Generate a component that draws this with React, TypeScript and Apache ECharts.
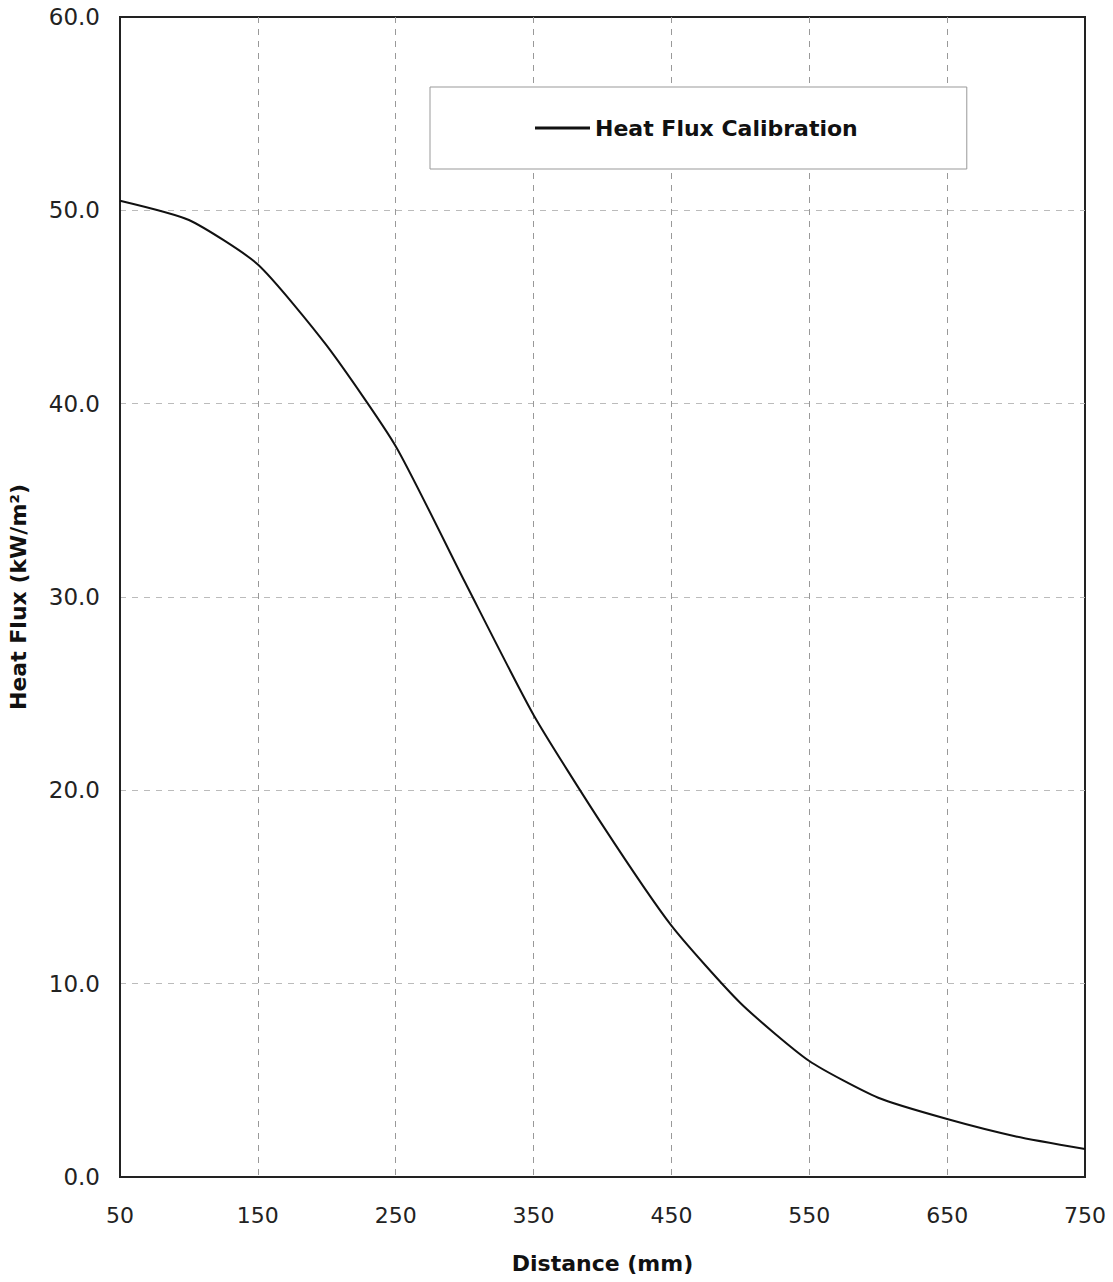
import React, { useEffect, useRef } from "react";
import * as echarts from "echarts";

const distances = [50, 100, 150, 200, 250, 300, 350, 400, 450, 500, 550, 600, 650, 700, 750];
const heatFlux = [50.5, 49.5, 47.2, 43.0, 37.8, 30.8, 23.9, 18.2, 13.0, 9.0, 6.0, 4.1, 3.0, 2.1, 1.45];
const seriesName = "Heat Flux Calibration";
const xTitle = "Distance (mm)";
const yTitle = "Heat Flux (kW/m²)";

export default function App() {
  const ref = useRef<HTMLDivElement>(null);
  useEffect(() => {
    const chart = echarts.init(ref.current!, null, { renderer: "svg" });
    const font = "'DejaVu Sans', Arial, sans-serif";
    chart.setOption({
      animation: false,
      backgroundColor: "#ffffff",
      textStyle: { fontFamily: font },
      grid: {
        left: 120,
        right: 28,
        top: 17,
        bottom: 105,
        show: true,
        borderColor: "#222",
        borderWidth: 2,
        outerBoundsMode: "none",
        containLabel: false,
      },
      legend: {
        left: 430,
        top: 87,
        orient: "horizontal",
        padding: [30, 109, 30, 105],
        borderColor: "#999",
        borderWidth: 1,
        backgroundColor: "#fff",
        itemWidth: 55,
        itemHeight: 14,
        icon: "path://M0,5.5 L55,5.5 L55,8.5 L0,8.5 Z",
        textStyle: { fontSize: 22, fontWeight: "bold", color: "#111", fontFamily: font },
        data: [seriesName],
      },
      xAxis: {
        type: "value",
        min: 50,
        max: 750,
        interval: 100,
        name: xTitle,
        nameLocation: "middle",
        nameGap: 75,
        nameTextStyle: { fontSize: 22, fontWeight: "bold", color: "#111", fontFamily: font },
        axisLine: { show: true, lineStyle: { color: "#222", width: 2 } },
        axisTick: { show: false },
        axisLabel: { fontSize: 22, color: "#222", margin: 27, fontFamily: font },
        splitLine: {
          show: true,
          showMinLine: false,
          showMaxLine: false,
          lineStyle: { color: "#999", type: [6, 6], width: 1 },
        },
      },
      yAxis: {
        type: "value",
        min: 0,
        max: 60,
        interval: 10,
        name: yTitle,
        nameLocation: "middle",
        nameGap: 91,
        nameRotate: 90,
        nameTextStyle: { fontSize: 22, fontWeight: "bold", color: "#111", fontFamily: font },
        axisLine: { show: true, lineStyle: { color: "#222", width: 2 } },
        axisTick: { show: false },
        axisLabel: {
          fontSize: 23,
          color: "#222",
          margin: 20,
          fontFamily: font,
          formatter: (v: number) => v.toFixed(1),
        },
        splitLine: {
          show: true,
          showMinLine: false,
          showMaxLine: false,
          lineStyle: { color: "#bbb", type: [6, 6], width: 1 },
        },
      },
      series: [
        {
          name: seriesName,
          type: "line",
          data: distances.map((d, i) => [d, heatFlux[i]]),
          showSymbol: false,
          smooth: 0.2,
          lineStyle: { color: "#111", width: 2 },
          itemStyle: { color: "#111" },
        },
      ],
    });
    return () => chart.dispose();
  }, []);
  return <div ref={ref} style={{ width: 1113, height: 1282, position: "absolute", left: 0, top: 0 }} />;
}
